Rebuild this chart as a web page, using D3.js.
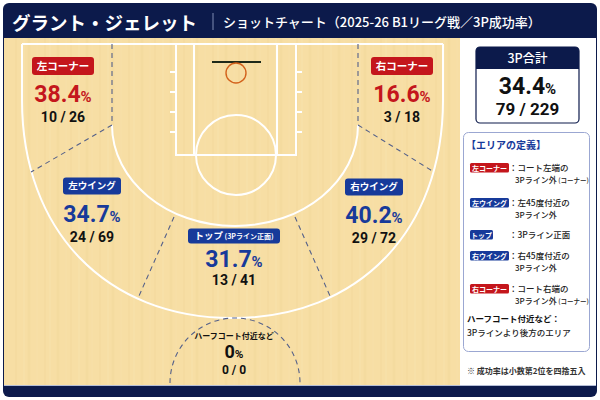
<!DOCTYPE html>
<html lang="ja">
<head>
<meta charset="UTF-8"/>
<title>グラント・ジェレット ショットチャート</title>
<script src="https://d3js.org/d3.v7.min.js"></script>
<style>
	body { margin: 0; background: #fff; }
	svg { display: block; }
	text { font-family: "Noto Sans CJK JP", "Noto Sans", sans-serif; }
	.num { font-family: Roboto, "Noto Sans", sans-serif; font-weight: 700; }
</style>
</head>
<body>
<script>
var w = 600;
var h = 400;

// chart data
var zones    = ["左コーナー", "左ウイング", "トップ", "右ウイング", "右コーナー", "ハーフコート付近など"];
var zoneType = ["corner", "wing", "top", "wing", "corner", "half"];
var made     = [10, 24, 13, 29, 3, 0];
var attempts = [26, 69, 41, 72, 18, 0];
var pct      = [38.4, 34.7, 31.7, 40.2, 16.6, 0];
var totalMade = 79, totalAtt = 229, totalPct = 34.4;

// legend texts
var defNames = ["左コーナー", "左ウイング", "トップ", "右ウイング", "右コーナー"];
var defType  = ["corner", "wing", "top", "wing", "corner"];
var defLine1 = ["：コート左端の", "：左45度付近の", "：3Pライン正面", "：右45度付近の", "：コート右端の"];
var defLine2 = ["3Pライン外", "3Pライン外", "", "3Pライン外", "3Pライン外"];
var defNote  = ["(コーナー)", "", "", "", "(コーナー)"];

// layout (court units: origin = baseline centre)
var labelPos = [[-172, 22], [-143, 142], [-1, 192], [139, 143], [167, 22], [-1, 295]];

var navy = "#0c1a4b", red = "#c4161c", blue = "#173a9a", wood = "#f7dea4";
var colorOf = { corner: red, wing: blue, top: blue, half: "#111" };

// court scales
var x = d3.scaleLinear().domain([-231, 225]).range([4, 460]);
var y = d3.scaleLinear().domain([-6, 340]).range([38, 384]);

var svg = d3.select("body").append("svg")
	.attr("width", w)
	.attr("height", h);

// card frame
svg.append("rect").attr("x", 3).attr("y", 3).attr("width", 594).attr("height", 394)
	.attr("rx", 6).attr("fill", navy);
svg.append("rect").attr("x", 4).attr("y", 38).attr("width", 456).attr("height", 347).attr("fill", wood);
svg.append("rect").attr("x", 460).attr("y", 38).attr("width", 136).attr("height", 347).attr("fill", "#fff");
svg.append("line").attr("x1", 4).attr("x2", 596).attr("y1", 385.5).attr("y2", 385.5)
	.attr("stroke", "#b4bdd6").attr("stroke-width", 1);

// wood grain
var grain = svg.append("g").attr("opacity", 0.18);
d3.range(8, 460, 7).forEach(function(gx, i) {
	grain.append("line")
		.attr("x1", gx + (i % 3)).attr("x2", gx + (i % 3))
		.attr("y1", 38).attr("y2", 385)
		.attr("stroke", i % 2 ? "#eccf8c" : "#fbe9bd")
		.attr("stroke-width", 1 + (i % 4) * 0.5);
});

// header
svg.append("text").attr("x", 12).attr("y", 29.5)
	.text("グラント・ジェレット")
	.style("font-size", "18.5px").style("font-weight", 700).style("fill", "#fff");
svg.append("line").attr("x1", 213).attr("x2", 213).attr("y1", 13).attr("y2", 30)
	.attr("stroke", "#7f8bb3").attr("stroke-width", 1);
svg.append("text").attr("x", 223).attr("y", 26.5)
	.text("ショットチャート（2025-26 B1リーグ戦／3P成功率）")
	.style("font-size", "13px").style("font-weight", 500).style("fill", "#fff");

// court lines
var court = svg.append("g")
	.attr("fill", "none").attr("stroke", "#fff").attr("stroke-width", 2);

var ox = -2.5, orx = 210.5;
var outer = d3.path();
outer.moveTo(x(ox - orx), y(0));
outer.lineTo(x(ox - orx), y(56));
outer.bezierCurveTo(x(ox - orx), y(56 + 0.6 * 218), x(ox - 0.6 * orx), y(274), x(ox), y(274));
outer.bezierCurveTo(x(ox + 0.6 * orx), y(274), x(ox + orx), y(56 + 0.6 * 218), x(ox + orx), y(56));
outer.lineTo(x(ox + orx), y(0));
court.append("path").attr("d", outer.toString());

var inner = d3.path();
inner.moveTo(x(-123), y(81));
inner.bezierCurveTo(x(-123), y(81 + 0.552 * 101), x(-0.552 * 123), y(182), x(0), y(182));
inner.bezierCurveTo(x(0.552 * 123), y(182), x(123), y(81 + 0.552 * 101), x(123), y(81));
court.append("path").attr("d", inner.toString());

court.append("line").attr("x1", x(ox - orx)).attr("x2", x(ox + orx)).attr("y1", y(0)).attr("y2", y(0));
court.append("rect").attr("x", x(-59)).attr("y", y(0)).attr("width", x(61) - x(-59)).attr("height", y(111) - y(0));
court.append("rect").attr("x", x(-41)).attr("y", y(0)).attr("width", x(42) - x(-41)).attr("height", y(111) - y(0));
court.append("circle").attr("cx", x(1)).attr("cy", y(111)).attr("r", 40);

[28, 48, 68, 88].forEach(function(t) {
	court.append("line").attr("x1", x(-65)).attr("x2", x(-59)).attr("y1", y(t)).attr("y2", y(t));
	court.append("line").attr("x1", x(61)).attr("x2", x(67)).attr("y1", y(t)).attr("y2", y(t));
});

svg.append("line").attr("x1", x(-23)).attr("x2", x(26)).attr("y1", y(18)).attr("y2", y(18))
	.attr("stroke", "#1e2a1a").attr("stroke-width", 2);
svg.append("circle").attr("cx", x(1)).attr("cy", y(29)).attr("r", 10)
	.attr("fill", "none").attr("stroke", "#d3621c").attr("stroke-width", 1.4);

// zone dividers
var dash = svg.append("g")
	.attr("fill", "none").attr("stroke", "#55618a")
	.attr("stroke-width", 1.1).attr("stroke-dasharray", "5,4");
var dividers = [
	[[-123, 0], [-123, 81]], [[123, 0], [123, 81]],
	[[-123, 81], [-204, 128]], [[123, 81], [199, 128]],
	[[-61, 173], [-96, 252]], [[60, 173], [95, 252]]
];
dividers.forEach(function(d) {
	dash.append("line")
		.attr("x1", x(d[0][0])).attr("y1", y(d[0][1]))
		.attr("x2", x(d[1][0])).attr("y2", y(d[1][1]));
});
var half = d3.path();
half.arc(x(0), y(339), 65, Math.PI, 2 * Math.PI);
dash.append("path").attr("d", half.toString());

// zone labels
var badgeSize = { corner: [62, 18, 10.5], wing: [58, 17, 9.5], top: [92, 15, 9.5] };

zones.forEach(function(z, i) {
	var t = zoneType[i];
	var cx = x(labelPos[i][0]), cy = y(labelPos[i][1]);
	var g = svg.append("g");
	var pctY, fracY, pctSize = 23;

	if (t === "half") {
		g.append("text").attr("x", cx).attr("y", cy)
			.attr("text-anchor", "middle")
			.text(z)
			.style("font-size", "8px").style("font-weight", 700).style("fill", "#111");
		pctY = cy + 19; fracY = cy + 35; pctSize = 18;
	} else {
		var b = badgeSize[t];
		g.append("rect")
			.attr("x", cx - b[0] / 2).attr("y", cy - b[1] / 2)
			.attr("width", b[0]).attr("height", b[1]).attr("rx", 3)
			.attr("fill", t === "corner" ? red : blue);
		var bt = g.append("text").attr("x", cx).attr("y", cy + b[2] * 0.36)
			.attr("text-anchor", "middle")
			.style("font-size", b[2] + "px").style("font-weight", 700).style("fill", "#fff");
		bt.append("tspan").text(z);
		if (t === "top") {
			bt.append("tspan").text(" (3Pライン正面)").style("font-size", "7px");
		}
		pctY = cy + 36; fracY = cy + 56;
		if (t === "top") { pctY = cy + 31; fracY = cy + 49; }
	}

	var pt = g.append("text").attr("class", "num")
		.attr("x", cx).attr("y", pctY).attr("text-anchor", "middle")
		.style("font-size", pctSize + "px").style("fill", colorOf[t]);
	pt.append("tspan").text(pct[i]);
	pt.append("tspan").text("%").style("font-size", (pctSize * 0.65) + "px");

	g.append("text").attr("class", "num")
		.attr("x", cx).attr("y", fracY).attr("text-anchor", "middle")
		.text(made[i] + " / " + attempts[i])
		.style("font-size", (t === "half" ? 12 : 14) + "px").style("fill", "#111");
});

// total box
var tb = svg.append("g");
tb.append("rect").attr("x", 476).attr("y", 47).attr("width", 103).attr("height", 76).attr("rx", 4)
	.attr("fill", "#fff").attr("stroke", navy).attr("stroke-width", 1.2);
tb.append("path")
	.attr("d", "M476,69 V51 Q476,47 480,47 H575 Q579,47 579,51 V69 Z")
	.attr("fill", navy);
tb.append("text").attr("x", 527.5).attr("y", 63).attr("text-anchor", "middle")
	.text("3P合計").style("font-size", "12.5px").style("font-weight", 500).style("fill", "#fff");
var tp = tb.append("text").attr("class", "num").attr("x", 527.5).attr("y", 94).attr("text-anchor", "middle")
	.style("font-size", "23px").style("fill", "#111");
tp.append("tspan").text(totalPct);
tp.append("tspan").text("%").style("font-size", "15px");
tb.append("text").attr("class", "num").attr("x", 527.5).attr("y", 114.5).attr("text-anchor", "middle")
	.text(totalMade + " / " + totalAtt).style("font-size", "17px").style("fill", "#111");

// definitions box
var db = svg.append("g");
db.append("rect").attr("x", 463.5).attr("y", 132.5).attr("width", 126).attr("height", 219).attr("rx", 5)
	.attr("fill", "#fff").attr("stroke", "#9ba7d2").attr("stroke-width", 1);
db.append("text").attr("x", 466).attr("y", 149)
	.text("【エリアの定義】").style("font-size", "10px").style("font-weight", 700).style("fill", blue);

var rowTop = [163, 198, 230, 251, 284];
var badgeW = [39, 39, 23, 39, 39];
defNames.forEach(function(n, i) {
	var ty = rowTop[i];
	db.append("rect").attr("x", 470).attr("y", ty).attr("width", badgeW[i]).attr("height", 9.5).attr("rx", 1.5)
		.attr("fill", defType[i] === "corner" ? red : blue);
	db.append("text").attr("x", 470 + badgeW[i] / 2).attr("y", ty + 7.5).attr("text-anchor", "middle")
		.text(n).style("font-size", "7px").style("font-weight", 700).style("fill", "#fff");
	db.append("text").attr("x", 509).attr("y", ty + 8)
		.text(defLine1[i]).style("font-size", "8.5px").style("font-weight", 500).style("fill", "#222");
	if (defLine2[i]) {
		var l2 = db.append("text").attr("x", 515).attr("y", ty + 19.5)
			.style("font-size", "8px").style("font-weight", 500).style("fill", "#222");
		l2.append("tspan").text(defLine2[i]);
		if (defNote[i]) l2.append("tspan").text(" " + defNote[i]).style("font-size", "6.5px");
	}
});

db.append("text").attr("x", 467).attr("y", 322)
	.text("ハーフコート付近など：").style("font-size", "8.5px").style("font-weight", 700).style("fill", "#111");
db.append("text").attr("x", 467).attr("y", 335.5)
	.text("3Pラインより後方のエリア").style("font-size", "8.5px").style("font-weight", 500).style("fill", "#222");

svg.append("text").attr("x", 467).attr("y", 373.5)
	.text("※ 成功率は小数第2位を四捨五入").style("font-size", "8px").style("font-weight", 700).style("fill", "#333");
</script>
</body>
</html>
